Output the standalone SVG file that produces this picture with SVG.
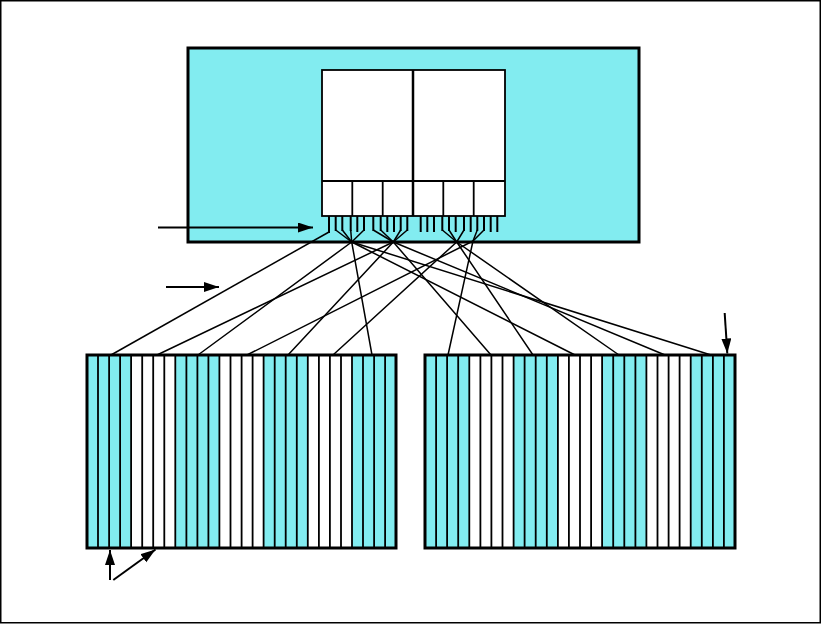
<svg xmlns="http://www.w3.org/2000/svg" width="821" height="624" viewBox="0 0 821 624">
<defs>
<style>
.cy{fill:#82ECF0}
.wh{fill:#FFFFFF}
.bd{fill:none;stroke:#000;stroke-width:3}
.dv{stroke:#000;stroke-width:1.8}
.pin{stroke:#000;stroke-width:2}
.cn{fill:none;stroke:#000;stroke-width:1.5;stroke-linejoin:round}
.ar{stroke:#000;stroke-width:2;fill:none;marker-end:url(#ah)}
</style>
<marker id="ah" markerUnits="userSpaceOnUse" markerWidth="18" markerHeight="12" refX="15" refY="5" orient="auto">
<path d="M0,0 L15,5 L0,10 Z" fill="#000"/>
</marker>
</defs>
<rect x="0.75" y="0.75" width="819.5" height="622" fill="#fff" stroke="#000" stroke-width="1.5"/>

<g id="main-unit">
<rect x="188" y="48" width="451" height="194" class="cy"/>
<rect x="322" y="70" width="183" height="146" class="wh" stroke="#000" stroke-width="1.8"/>
<line x1="322" y1="181" x2="505" y2="181" class="dv"/>
<line x1="413" y1="70" x2="413" y2="216" stroke="#000" stroke-width="2.5"/>
<line x1="352.3" y1="181" x2="352.3" y2="216" class="dv"/>
<line x1="382.7" y1="181" x2="382.7" y2="216" class="dv"/>
<line x1="443.3" y1="181" x2="443.3" y2="216" class="dv"/>
<line x1="473.7" y1="181" x2="473.7" y2="216" class="dv"/>
<g id="pins">
<line x1="329" y1="216" x2="329" y2="233" class="pin"/>
<line x1="335.7" y1="216" x2="335.7" y2="231" class="pin"/>
<line x1="342.3" y1="216" x2="342.3" y2="231" class="pin"/>
<line x1="350.7" y1="216" x2="350.7" y2="231" class="pin"/>
<line x1="357.3" y1="216" x2="357.3" y2="232" class="pin"/>
<line x1="364" y1="216" x2="364" y2="231" class="pin"/>
<line x1="373.3" y1="216" x2="373.3" y2="231" class="pin"/>
<line x1="380.7" y1="216" x2="380.7" y2="231" class="pin"/>
<line x1="387.3" y1="216" x2="387.3" y2="232" class="pin"/>
<line x1="394" y1="216" x2="394" y2="232" class="pin"/>
<line x1="400.7" y1="216" x2="400.7" y2="231" class="pin"/>
<line x1="407.3" y1="216" x2="407.3" y2="231" class="pin"/>
<line x1="420.7" y1="216" x2="420.7" y2="232" class="pin"/>
<line x1="427.3" y1="216" x2="427.3" y2="232" class="pin"/>
<line x1="434" y1="216" x2="434" y2="232" class="pin"/>
<line x1="442.3" y1="216" x2="442.3" y2="231" class="pin"/>
<line x1="449" y1="216" x2="449" y2="231" class="pin"/>
<line x1="455.7" y1="216" x2="455.7" y2="232" class="pin"/>
<line x1="464" y1="216" x2="464" y2="231" class="pin"/>
<line x1="470.7" y1="216" x2="470.7" y2="232" class="pin"/>
<line x1="477.3" y1="216" x2="477.3" y2="231" class="pin"/>
<line x1="484" y1="216" x2="484" y2="231" class="pin"/>
<line x1="490.7" y1="216" x2="490.7" y2="232" class="pin"/>
<line x1="497.3" y1="216" x2="497.3" y2="232" class="pin"/>
</g>
<rect x="188" y="48" width="451" height="194" class="bd"/>
</g>

<g id="left-array">
<rect x="87" y="355" width="309" height="193" class="cy"/>
<rect x="131.1" y="355" width="44.2" height="193" class="wh"/>
<rect x="219.4" y="355" width="44.2" height="193" class="wh"/>
<rect x="307.7" y="355" width="44.2" height="193" class="wh"/>
<path class="dv" d="M98,355V548M109.1,355V548M120.1,355V548M131.1,355V548M142.2,355V548M153.2,355V548M164.3,355V548M175.3,355V548M186.4,355V548M197.4,355V548M208.4,355V548M219.4,355V548M230.5,355V548M241.6,355V548M252.6,355V548M263.6,355V548M274.7,355V548M285.7,355V548M296.8,355V548M307.8,355V548M318.9,355V548M329.9,355V548M341,355V548M352,355V548M363,355V548M374.1,355V548M385.1,355V548"/>
<rect x="87" y="355" width="309" height="193" class="bd"/>
</g>

<g id="right-array">
<rect x="425" y="355" width="310" height="193" class="cy"/>
<rect x="469.3" y="355" width="44.3" height="193" class="wh"/>
<rect x="557.9" y="355" width="44.3" height="193" class="wh"/>
<rect x="646.4" y="355" width="44.3" height="193" class="wh"/>
<path class="dv" d="M436.1,355V548M447.1,355V548M458.2,355V548M469.3,355V548M480.4,355V548M491.4,355V548M502.5,355V548M513.6,355V548M524.6,355V548M535.7,355V548M546.8,355V548M557.9,355V548M568.9,355V548M580,355V548M591.1,355V548M602.1,355V548M613.2,355V548M624.3,355V548M635.4,355V548M646.4,355V548M657.5,355V548M668.6,355V548M679.6,355V548M690.7,355V548M701.8,355V548M712.9,355V548M723.9,355V548"/>
<rect x="425" y="355" width="310" height="193" class="bd"/>
</g>

<g id="connectors">
<path class="cn" d="M329,232 L111,355"/>
<path class="cn" d="M335.7,230 L351.7,242 L575,355"/>
<path class="cn" d="M342.3,230 L351.7,242 L711,355"/>
<path class="cn" d="M350.7,230 L351.7,242 L372,355"/>
<path class="cn" d="M364,230 L351.7,242 L198,355"/>
<path class="cn" d="M373.3,230 L393.3,242 L665,355"/>
<path class="cn" d="M380.7,230 L393.3,242 L491,355"/>
<path class="cn" d="M400.7,230 L393.3,242 L288,355"/>
<path class="cn" d="M407.3,230 L393.3,242 L157,355"/>
<path class="cn" d="M442.3,230 L456.7,242 L533,355"/>
<path class="cn" d="M449,230 L456.7,242 L619,355"/>
<path class="cn" d="M464,230 L456.7,242 L333,355"/>
<path class="cn" d="M477.3,230 L473,241 L448,355"/>
<path class="cn" d="M484,230 L473,241 L247,355"/>
</g>

<g id="arrows">
<line x1="158" y1="227.5" x2="313" y2="227.5" class="ar"/>
<line x1="166" y1="287" x2="219" y2="287" class="ar"/>
<line x1="724.7" y1="313" x2="727.3" y2="353.5" class="ar"/>
<line x1="110" y1="580" x2="110" y2="550" class="ar"/>
<line x1="113.3" y1="580" x2="155.5" y2="549.5" class="ar"/>
</g>
</svg>
